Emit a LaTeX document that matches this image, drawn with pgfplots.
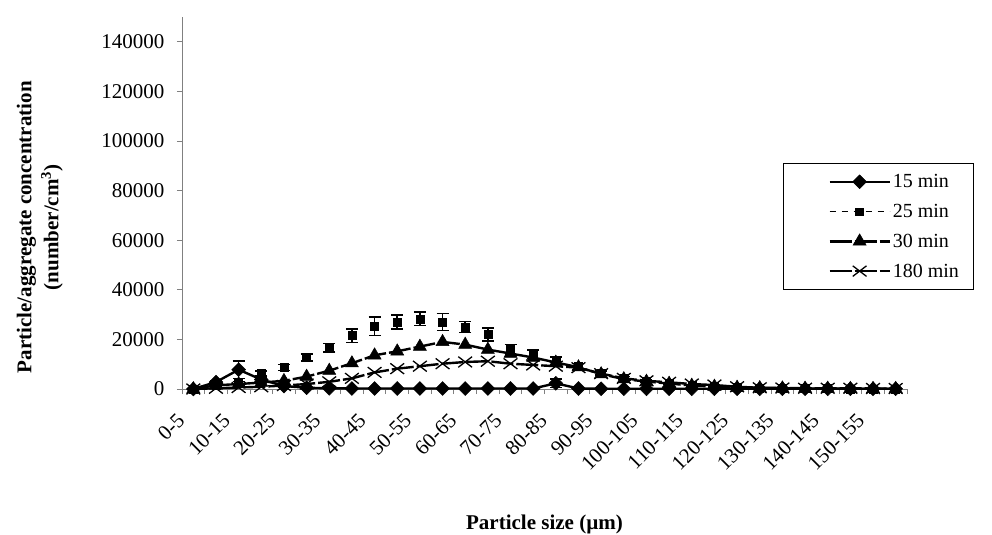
\documentclass[border=0pt]{standalone}
\usepackage{pgfplots}
\usepackage{pgfplotstable}
\pgfplotsset{compat=1.18}
\usepackage{fontspec}
\setmainfont{Liberation Serif}

\definecolor{axisgray}{RGB}{128,128,128}

% Concentration (number/cm^3) per 5 um size class; e = standard error
\pgfplotstableread{
i  s15  e15   s25   e25   s30   s180
0  0    200   0     200   0     0
1  2800 600   1500  500   1500  300
2  7800 3500  2400  700   2000  600
3  3800 800   6200  1000  2600  900
4  1200 300   8700  1200  3300  1400
5  500  200   12700 1400  5000  2000
6  300  100   16600 1700  7400  2900
7  200  100   21500 2700  10400 4300
8  200  100   25300 3700  13600 6700
9  200  100   27000 2900  15200 8200
10 200  100   28300 2700  17100 9200
11 200  100   27000 3500  19000 10200
12 200  100   25000 2300  17900 10900
13 200  100   22000 2700  15900 11200
14 200  100   16000 2000  14300 10200
15 200  100   14000 1700  12700 9700
16 2300 1700  11300 1700  10700 9200
17 200  100   9000  1200  8800  8600
18 100  100   6500  800   6000  6200
19 100  100   4500  600   4000  4300
20 100  100   3300  500   3000  3300
21 100  100   2300  400   2200  2700
22 100  100   1500  300   1400  2000
23 100  100   1100  300   1000  1600
24 100  100   600   200   600   900
25 100  100   400   200   400   500
26 100  100   300   100   300   400
27 100  100   200   100   200   300
28 100  100   200   100   200   300
29 100  100   100   100   100   300
30 100  100   100   100   100   200
31 100  100   100   100   100   200
}\conc

\begin{document}
\begin{tikzpicture}
\begin{axis}[
  scale only axis, width=725pt, height=372pt,
  xmin=-0.5, xmax=31.5, ymin=0, ymax=150000,
  axis x line*=bottom, axis y line*=left,
  axis line style={draw=axisgray, line width=0.9pt, -},
  tick style={draw=axisgray, line width=0.9pt},
  tick align=outside, major tick length=5pt,
  xtick={-0.5,0.5,...,31.5},
  xticklabels={0-5,{},10-15,{},20-25,{},30-35,{},40-45,{},50-55,{},60-65,{},70-75,{},80-85,{},90-95,{},100-105,{},110-115,{},120-125,{},130-135,{},140-145,{},150-155,{},{}},
  xticklabel style={font=\fontsize{21}{25}\selectfont, xshift=-6pt, yshift=-15pt, rotate=45, anchor=north east, inner sep=2pt},
  ytick={0,20000,...,140000},
  scaled y ticks=false,
  yticklabel style={font=\fontsize{21}{25}\selectfont, xshift=-9pt, /pgf/number format/fixed, /pgf/number format/1000 sep={}},
  /pgf/number format/assume math mode=true,
  xlabel={Particle size (µm)},
  xlabel style={font=\bfseries\fontsize{21}{25}\selectfont, at={(axis description cs:0.5,0)}, anchor=north, yshift=-126pt, inner sep=0pt},
  ylabel={Particle/aggregate concentration\\(number/cm\textsuperscript{3})},
  ylabel style={align=center, font=\bfseries\fontsize{21}{27}\selectfont, at={(axis description cs:0,0.435)}, anchor=south, yshift=119pt, inner sep=0pt},
  legend style={at={(axis description cs:0.829,0.6075)}, anchor=north west, draw=black, line width=0.8pt, font=\fontsize{20}{24}\selectfont, row sep=11pt, inner ysep=9pt, inner xsep=12pt},
  legend cell align=left,
  legend image code/.code={\path (-33pt,0pt); \draw[mark repeat=2, mark phase=2] plot coordinates {(0pt,0pt) (30pt,0pt) (60pt,0pt)};},
  clip=false,
]
\coordinate (O) at (rel axis cs:0,0);

\addplot[black, line width=2.4pt, mark=square*, mark size=4.9pt, mark options={solid, rotate=45, line width=0.5pt},
  error bars/.cd, y dir=both, y explicit,
  error bar style={line width=1.5pt, solid},
  error mark options={rotate=90, mark size=6pt, line width=1.5pt}]
  table[x=i, y=s15, y error=e15] {\conc};
\addlegendentry{15 min}

\addplot[black, only marks, mark=square*, mark size=4pt, mark options={solid, line width=0.5pt},
  legend image code/.code={\path (-33pt,0pt); \draw[black, line width=1.8pt, dash pattern=on 6pt off 6pt] (0pt,0pt) -- (60pt,0pt); \fill[black] (26pt,-3.5pt) rectangle (34pt,3.5pt);},
  error bars/.cd, y dir=both, y explicit,
  error bar style={line width=1.5pt, solid},
  error mark options={rotate=90, mark size=6pt, line width=1.5pt}]
  table[x=i, y=s25, y error=e25] {\conc};
\addlegendentry{25 min}

\addplot[black, line width=2.4pt, dash pattern=on 22pt off 3pt, mark=triangle*, mark size=7.5pt, mark options={solid, line width=0.5pt}]
  table[x=i, y=s30] {\conc};
\addlegendentry{30 min}

\addplot[black, line width=2.4pt, dash pattern=on 22pt off 3pt, mark=x, mark size=7.5pt, mark options={solid, line width=1.3pt, xscale=1.3}]
  table[x=i, y=s180] {\conc};
\addlegendentry{180 min}
\end{axis}
\path (O) ++(-182pt,-144pt) rectangle ++(992pt,533pt);
\end{tikzpicture}
\end{document}
